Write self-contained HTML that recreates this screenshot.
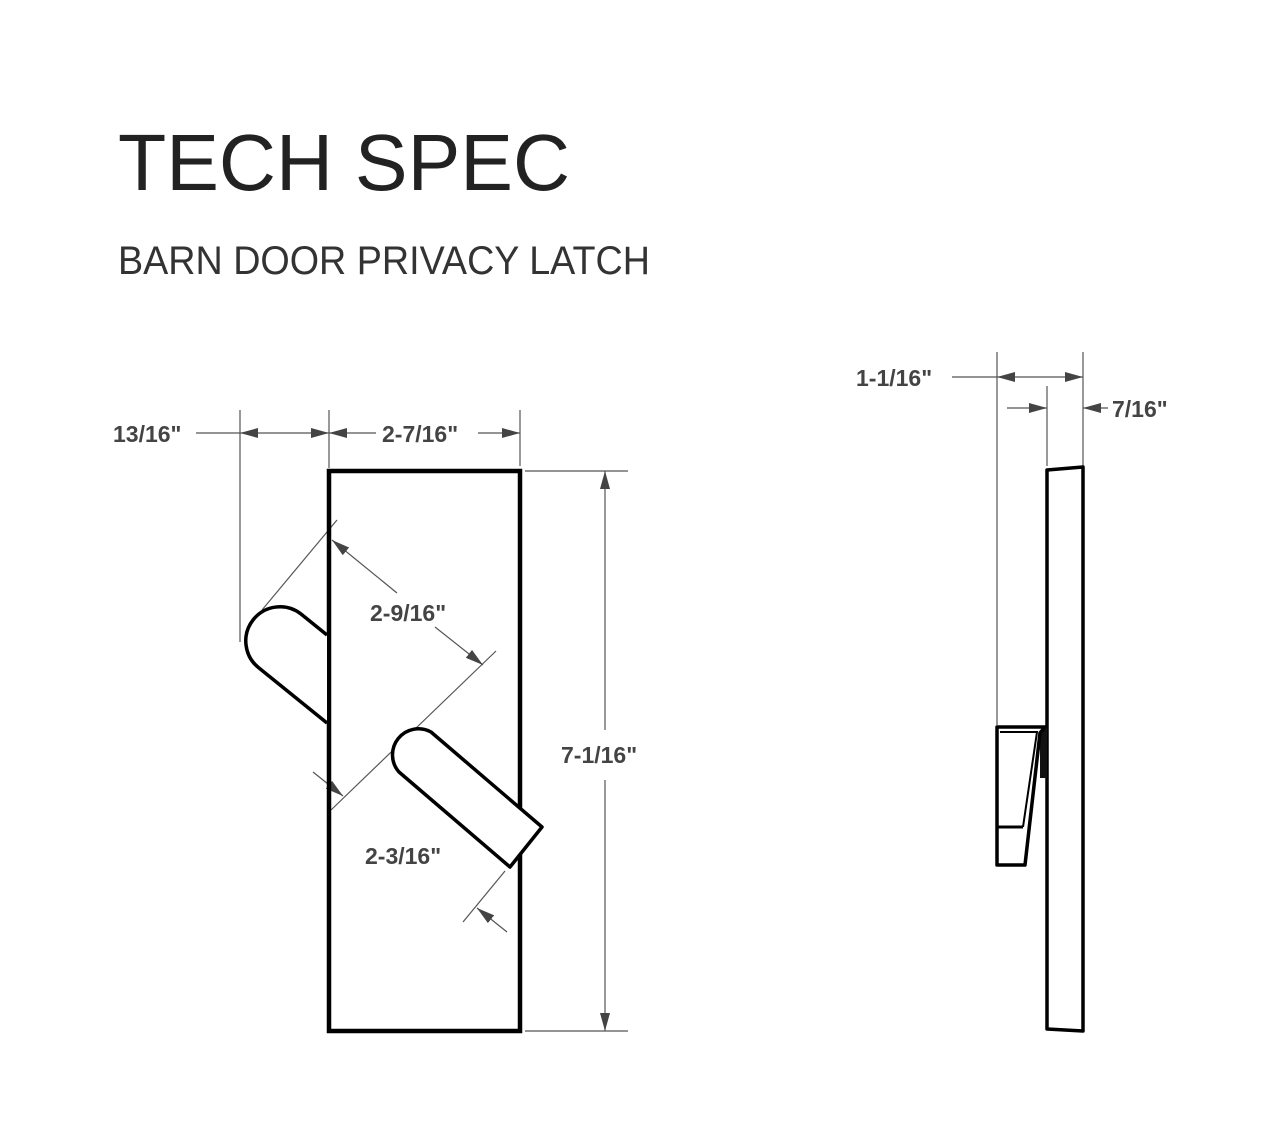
<!DOCTYPE html>
<html><head><meta charset="utf-8"><style>
html,body{margin:0;padding:0;background:#fff}
svg{display:block}
.l{font-family:"Liberation Sans",sans-serif;font-weight:bold;font-size:23px;fill:#444}
</style></head><body>
<svg width="1280" height="1126" viewBox="0 0 1280 1126" xmlns="http://www.w3.org/2000/svg">
<defs>
<marker id="a" viewBox="0 0 18 10" refX="18" refY="5" markerWidth="18" markerHeight="10" markerUnits="userSpaceOnUse" orient="auto">
<path d="M0,0 L18,5 L0,10 Z" fill="#444"/></marker>
</defs>
<text x="118" y="190" font-family="Liberation Sans,sans-serif" font-size="80" fill="#222" textLength="452" lengthAdjust="spacingAndGlyphs">TECH SPEC</text>
<text x="118" y="274" font-family="Liberation Sans,sans-serif" font-size="40" fill="#333" textLength="532" lengthAdjust="spacingAndGlyphs">BARN DOOR PRIVACY LATCH</text>

<g stroke="#555" stroke-width="1.2" fill="none">
<line x1="240" y1="410" x2="240" y2="642"/>
<line x1="329" y1="410" x2="329" y2="468"/>
<line x1="520" y1="410" x2="520" y2="466"/>
<line x1="196" y1="433" x2="240" y2="433"/>
<line x1="285" y1="433" x2="240" y2="433" marker-end="url(#a)"/>
<line x1="285" y1="433" x2="329" y2="433" marker-end="url(#a)"/>
<line x1="376" y1="433" x2="329" y2="433" marker-end="url(#a)"/>
<line x1="478" y1="433" x2="520" y2="433" marker-end="url(#a)"/>
<line x1="525" y1="471" x2="628" y2="471"/>
<line x1="525" y1="1031" x2="628" y2="1031"/>
<line x1="605" y1="730" x2="605" y2="471" marker-end="url(#a)"/>
<line x1="605" y1="780" x2="605" y2="1031" marker-end="url(#a)"/>
<line x1="262" y1="610" x2="337" y2="520"/>
<line x1="397" y1="593" x2="332" y2="540" marker-end="url(#a)"/>
<line x1="435" y1="627" x2="483" y2="665" marker-end="url(#a)"/>
<line x1="496" y1="651" x2="331" y2="810"/>
<line x1="313" y1="772" x2="343" y2="796" marker-end="url(#a)"/>
<line x1="463" y1="922" x2="505" y2="871"/>
<line x1="507" y1="932" x2="477" y2="908" marker-end="url(#a)"/>
<line x1="997" y1="352" x2="997" y2="725"/>
<line x1="1047" y1="386" x2="1047" y2="466"/>
<line x1="1083" y1="352" x2="1083" y2="466"/>
<line x1="952" y1="377" x2="997" y2="377"/>
<line x1="1040" y1="377" x2="997" y2="377" marker-end="url(#a)"/>
<line x1="1040" y1="377" x2="1083" y2="377" marker-end="url(#a)"/>
<line x1="1007" y1="408" x2="1047" y2="408" marker-end="url(#a)"/>
<line x1="1108" y1="408" x2="1083" y2="408" marker-end="url(#a)"/>
</g>

<rect x="329" y="471" width="191" height="560" fill="none" stroke="#000" stroke-width="4.5"/>
<path d="M327,635 L301,614 A34,34 0 0 0 259,668 L327,723" fill="#fff" stroke="#000" stroke-width="3.5" stroke-linejoin="round"/>
<path d="M431,732 L542,827 L510,867 L399,772 A26,26 0 0 1 431,732 Z" fill="#fff" stroke="#000" stroke-width="3.5" stroke-linejoin="round"/>

<rect x="558" y="738" width="86" height="30" fill="#fff"/>
<text class="l" x="113" y="442">13/16"</text>
<text class="l" x="382" y="442">2-7/16"</text>
<text class="l" x="561" y="763">7-1/16"</text>
<text class="l" x="370" y="621">2-9/16"</text>
<text class="l" x="365" y="864">2-3/16"</text>
<text class="l" x="856" y="386">1-1/16"</text>
<text class="l" x="1112" y="417">7/16"</text>

<path d="M1047,470 L1083,467 L1083,1031 L1047,1029 Z" fill="#fff" stroke="#000" stroke-width="3.5" stroke-linejoin="round"/>
<rect x="1040" y="727" width="7" height="51" fill="#111"/>
<path d="M997,727 L1045,727 L1040,733 L1025,865 L997,865 Z" fill="#fff" stroke="#000" stroke-width="3.5" stroke-linejoin="round"/>
<path d="M1000,732 L1037,732 L1023,827" fill="none" stroke="#000" stroke-width="2"/>
<line x1="997" y1="827" x2="1023" y2="827" stroke="#000" stroke-width="3"/>
</svg>
</body></html>
